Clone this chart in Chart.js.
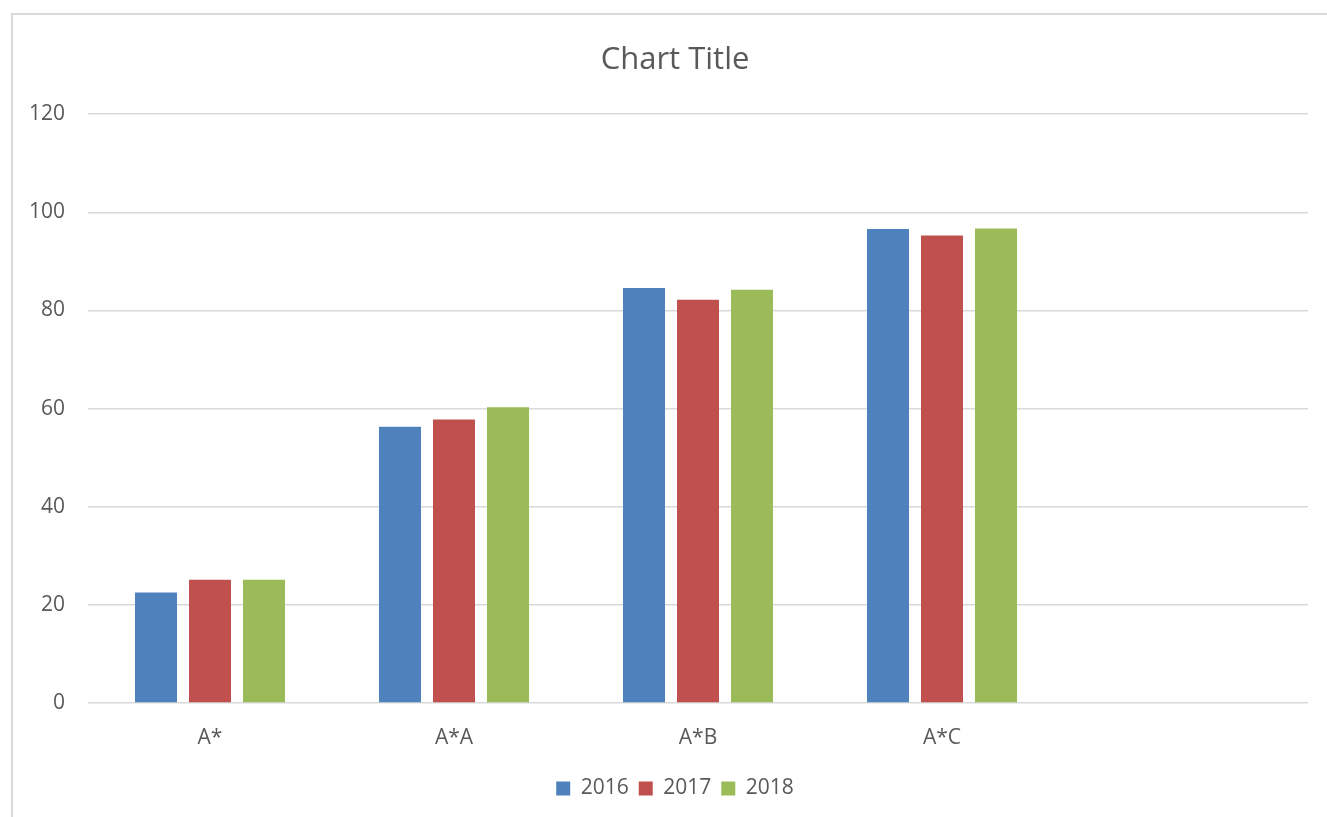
<!DOCTYPE html>
<html>
<head>
<meta charset="utf-8">
<script src="https://cdn.jsdelivr.net/npm/chart.js@4"></script>
<style>
  html, body { margin: 0; padding: 0; background: #fff; overflow: hidden; width: 1327px; height: 817px; }
  #frame { position: absolute; left: 11px; top: 13px; border-left: 2px solid #d9d9d9; border-top: 2px solid #d9d9d9; width: 1324px; height: 802px; }
  canvas { display: block; }
</style>
</head>
<body>
<div id="frame"><canvas id="c" width="1324" height="802"></canvas></div>
<script>
const categories = ['A*', 'A*A', 'A*B', 'A*C', ''];
const series2016 = [22.5, 56.3, 84.6, 96.6, null];
const series2017 = [25.1, 57.8, 82.2, 95.3, null];
const series2018 = [25.1, 60.3, 84.2, 96.7, null];
const yTicks = [0, 20, 40, 60, 80, 100, 120];

const FONT = "'Open Sans', 'Liberation Sans', sans-serif";
const TXT = '#595959';

new Chart(document.getElementById('c'), {
  type: 'bar',
  data: {
    labels: categories,
    datasets: [
      { label: '2016', data: series2016, backgroundColor: '#4F81BD', borderWidth: 0 },
      { label: '2017', data: series2017, backgroundColor: '#C0504D', borderWidth: 0 },
      { label: '2018', data: series2018, backgroundColor: '#9BBB59', borderWidth: 0 }
    ]
  },
  options: {
    responsive: false,
    animation: false,
    events: [],
    categoryPercentage: 0.664,
    barPercentage: 0.778,
    layout: { padding: { left: 0, right: 0, top: 0, bottom: 8 } },
    plugins: {
      title: {
        display: true,
        text: 'Chart Title',
        color: TXT,
        font: { family: FONT, size: 31, weight: 'normal' },
        padding: { top: 27, bottom: 35 }
      },
      legend: {
        display: true,
        position: 'bottom',
        labels: {
          color: TXT,
          font: { family: FONT, size: 21 },
          boxWidth: 14,
          boxHeight: 14,
          padding: 10
        }
      },
      tooltip: { enabled: false }
    },
    scales: {
      x: {
        grid: { display: false, drawTicks: false },
        border: { display: false },
        ticks: { color: TXT, font: { family: FONT, size: 21 }, padding: 22, maxRotation: 0 },
        afterFit: s => { s.height = 65; }
      },
      y: {
        min: 0,
        max: 120,
        afterBuildTicks: s => { s.ticks = yTicks.map(v => ({ value: v })); },
        grid: { color: '#d9d9d9', lineWidth: 1.5, drawTicks: false },
        border: { display: false },
        ticks: { color: TXT, font: { family: FONT, size: 21 }, padding: 23 },
        afterFit: s => { s.width = 75; }
      },
      yRight: {
        position: 'right',
        display: true,
        grid: { display: false, drawTicks: false },
        border: { display: false },
        ticks: { display: false },
        afterFit: s => { s.width = 29; }
      }
    }
  }
});
</script>
</body>
</html>
